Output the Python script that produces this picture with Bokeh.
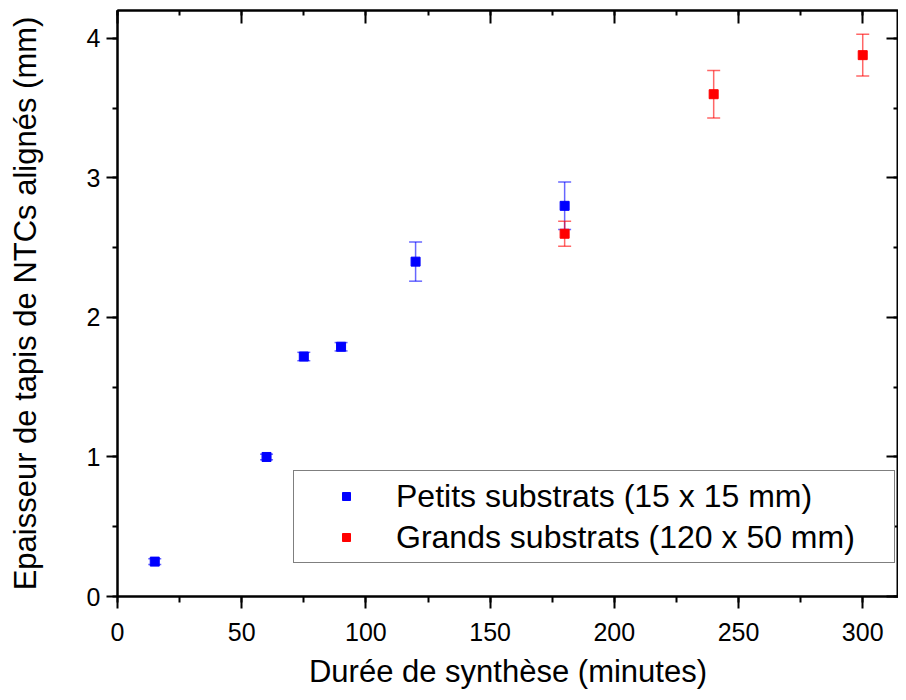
from bokeh.plotting import figure
from bokeh.models import (ColumnDataSource, Whisker, LinearAxis, Legend, LegendItem,
                          Range1d, SingleIntervalTicker, TeeHead, CustomJSTickFormatter)
from bokeh.embed import file_html
from bokeh.resources import INLINE

# Data
small_x = [15, 60, 75, 90, 120, 180]
small_y = [0.25, 1.00, 1.72, 1.79, 2.40, 2.80]
small_err = [0.02, 0.02, 0.03, 0.03, 0.14, 0.17]
large_x = [180, 240, 300]
large_y = [2.60, 3.60, 3.88]
large_err = [0.09, 0.17, 0.15]
label_small = "Petits substrats (15 x 15 mm)"
label_large = "Grands substrats (120 x 50 mm)"
x_title = "Durée de synthèse (minutes)"
y_title = "Epaisseur de tapis de NTCs alignés (mm)"

FONT = "Liberation Sans"
BLUE = "#0000ff"
RED = "#ff0000"

src_s = ColumnDataSource(dict(x=small_x, y=small_y,
                              lo=[y - e for y, e in zip(small_y, small_err)],
                              hi=[y + e for y, e in zip(small_y, small_err)]))
src_l = ColumnDataSource(dict(x=large_x, y=large_y,
                              lo=[y - e for y, e in zip(large_y, large_err)],
                              hi=[y + e for y, e in zip(large_y, large_err)]))

p = figure(width=898, height=692, output_backend="svg", toolbar_location=None,
           x_range=Range1d(0, 314.4), y_range=Range1d(0, 4.2),
           min_border_left=117, min_border_top=10, min_border_right=0, min_border_bottom=96)
p.grid.visible = False
p.outline_line_color = "black"
p.outline_line_width = 2
p.background_fill_color = "white"
p.border_fill_color = "white"

xt = SingleIntervalTicker(interval=50, num_minor_ticks=2)
yt = SingleIntervalTicker(interval=1, num_minor_ticks=2)


def style_axis(ax):
    ax.axis_line_width = 2
    ax.major_tick_line_width = 2
    ax.minor_tick_line_width = 2
    ax.axis_line_color = "black"
    ax.major_tick_line_color = "black"
    ax.minor_tick_line_color = "black"


xa = p.xaxis[0]
xa.ticker = xt
style_axis(xa)
xa.major_tick_out = 12
xa.major_tick_in = 0
xa.minor_tick_out = 6
xa.minor_tick_in = 0
xa.major_label_text_font = FONT
xa.major_label_text_font_size = "25px"
xa.major_label_text_color = "black"
xa.major_label_standoff = 14
xa.axis_label = x_title
xa.axis_label_text_font = FONT
xa.axis_label_text_font_size = "31px"
xa.axis_label_text_font_style = "normal"
xa.axis_label_text_color = "black"
xa.axis_label_standoff = 10

ya = p.yaxis[0]
ya.ticker = yt
style_axis(ya)
ya.major_tick_out = 11
ya.major_tick_in = 0
ya.minor_tick_out = 5
ya.minor_tick_in = 0
ya.major_label_text_font = FONT
ya.major_label_text_font_size = "25px"
ya.major_label_text_color = "black"
ya.major_label_standoff = 6
ya.axis_label = y_title
ya.axis_label_text_font = FONT
ya.axis_label_text_font_size = "31px"
ya.axis_label_text_font_style = "normal"
ya.axis_label_text_color = "black"
ya.axis_label_standoff = 41

top = LinearAxis(ticker=SingleIntervalTicker(interval=50, num_minor_ticks=2))
right = LinearAxis(ticker=SingleIntervalTicker(interval=1, num_minor_ticks=2))
for ax, mi, mn in ((top, 13, 5), (right, 12, 5)):
    style_axis(ax)
    ax.major_tick_in = mi
    ax.major_tick_out = 0
    ax.minor_tick_in = mn
    ax.minor_tick_out = 0
    ax.formatter = CustomJSTickFormatter(code="return ''")
    ax.major_label_text_font_size = "1px"
    ax.major_label_standoff = 0
p.add_layout(top, "above")
p.add_layout(right, "right")

for src, col in ((src_s, BLUE), (src_l, RED)):
    w = Whisker(base="x", upper="hi", lower="lo", source=src,
                line_color=col, line_alpha=0.6, line_width=1.5,
                upper_head=TeeHead(size=13, line_color=col, line_alpha=0.6, line_width=1.5),
                lower_head=TeeHead(size=13, line_color=col, line_alpha=0.6, line_width=1.5))
    p.add_layout(w)

r_s = p.scatter("x", "y", source=src_s, marker="square", size=9,
                fill_color=BLUE, line_color=BLUE)
r_l = p.scatter("x", "y", source=src_l, marker="square", size=9,
                fill_color=RED, line_color=RED)

legend = Legend(items=[LegendItem(label=label_small, renderers=[r_s]),
                       LegendItem(label=label_large, renderers=[r_l])],
                location=(176, 33))
legend.label_text_font = FONT
legend.label_text_font_size = "32px"
legend.label_text_color = "black"
legend.border_line_color = "black"
legend.border_line_width = 1
legend.background_fill_color = "white"
legend.background_fill_alpha = 1
legend.padding = 5
legend.spacing = 1
legend.glyph_width = 94
legend.glyph_height = 20
legend.label_height = 40
legend.label_width = 493
legend.label_standoff = 3
legend.margin = 0
p.add_layout(legend, "center")

open("out.html", "w").write(file_html(p, INLINE))
